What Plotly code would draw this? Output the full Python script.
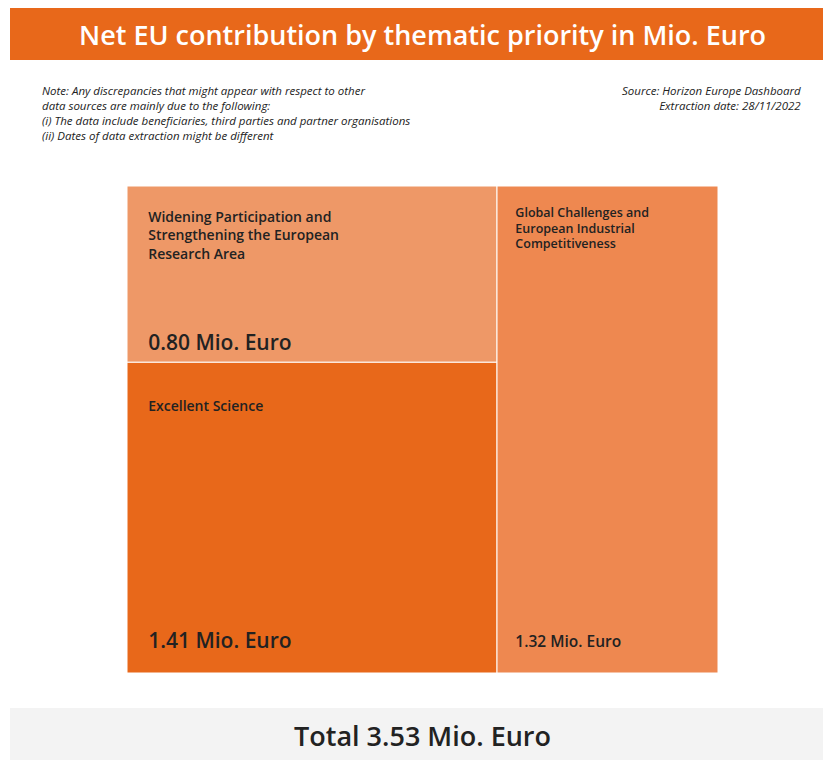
import plotly.graph_objects as go

# ---- data ----
categories = [
    "Widening Participation and Strengthening the European Research Area",
    "Excellent Science",
    "Global Challenges and European Industrial Competitiveness",
]
display_labels = [
    "Widening Participation and<br>Strengthening the European<br>Research Area",
    "Excellent Science",
    "Global Challenges and<br>European Industrial<br>Competitiveness",
]
values = [0.80, 1.41, 1.32]
unit = "Mio. Euro"
root_label = "Total"

title_text = "Net EU contribution by thematic priority in Mio. Euro"
note_lines = [
    "Note: Any discrepancies that might appear with respect to other",
    "data sources are mainly due to the following:",
    "(i) The data include beneficiaries, third parties and partner organisations",
    "(ii) Dates of data extraction might be different",
]
source_lines = ["Source: Horizon Europe Dashboard", "Extraction date: 28/11/2022"]

# ---- styles ----
colors = ["#EE9867", "#E8681A", "#EE8850"]
FONT = "Open Sans"
base_sizes = [14, 14, 11.8]    # line pitch of cell text
label_sizes = [14, 14, 12.5]
value_sizes = [21, 21, 15.5]
lead_sizes = [14, 26, 11.8]    # size of the blank first line (top inset)
indents = [5, 5, 5]
value_offsets = [7, 13, 28]    # line distance from first label line to value line

texts = []
for lab, ls, vs, lead, ind, off, v in zip(display_labels, label_sizes, value_sizes,
                                         lead_sizes, indents, value_offsets, values):
    pad = "&nbsp;" * ind
    label_lines = [f"{pad}<span style='font-size:{ls}px'>{l}</span>" for l in lab.split("<br>")]
    lines = [f"<span style='font-size:{lead}px'>&nbsp;</span>"] + label_lines
    lines += [""] * (off - len(label_lines))
    lines.append(f"{pad}<span style='font-size:{vs}px'>{v:.2f} {unit}</span>")
    texts.append("<br>".join(lines))

W, H = 823, 760
fig = go.Figure(
    go.Treemap(
        labels=[root_label] + categories,
        parents=[""] + [root_label] * len(categories),
        values=[0] + values,
        branchvalues="remainder",
        sort=False,
        text=[" "] + texts,
        texttemplate="%{text}",
        textposition="top left",
        textfont=dict(family=FONT, size=[14] + base_sizes, color="#222222", weight=600),
        marker=dict(colors=["white"] + colors, line=dict(color="white", width=1),
                    pad=dict(t=0, l=0, r=0, b=0)),
        tiling=dict(packing="binary", pad=0),
        pathbar=dict(visible=False),
        hoverinfo="label+value",
        domain=dict(x=[127 / W, 718 / W], y=[1 - 673 / H, 1 - 186 / H]),
    )
)

total = sum(values)

fig.add_shape(type="rect", xref="paper", yref="paper", x0=10 / W, x1=1, y0=1 - 60 / H, y1=1 - 8 / H,
              fillcolor="#E8681A", line=dict(width=0), layer="below")
fig.add_shape(type="rect", xref="paper", yref="paper", x0=10 / W, x1=1, y0=0, y1=1 - 708 / H,
              fillcolor="#F3F3F3", line=dict(width=0), layer="below")

fig.add_annotation(text=title_text, xref="paper", yref="paper", x=423 / W, y=1 - 34 / H,
                   xanchor="center", yanchor="middle", showarrow=False,
                   font=dict(family=FONT, size=27, color="white", weight=600))

note_font = dict(family=FONT, size=11.5, color="#222222", style="italic")
fig.add_annotation(text="<br>".join(note_lines), xref="paper", yref="paper", x=40 / W, y=1 - 81 / H,
                   xanchor="left", yanchor="top", align="left", showarrow=False, font=note_font)
fig.add_annotation(text="<br>".join(source_lines), xref="paper", yref="paper", x=803 / W, y=1 - 81 / H,
                   xanchor="right", yanchor="top", align="right", showarrow=False, font=note_font)

fig.add_annotation(text=f"Total {total:.2f} {unit}", xref="paper", yref="paper", x=422 / W, y=1 - 735 / H,
                   xanchor="center", yanchor="middle", showarrow=False,
                   font=dict(family=FONT, size=27, color="#222222", weight=600))

fig.update_layout(width=W, height=H, margin=dict(l=0, r=0, t=0, b=0),
                  paper_bgcolor="white", plot_bgcolor="white", showlegend=False)

fig.write_html("out.html")
